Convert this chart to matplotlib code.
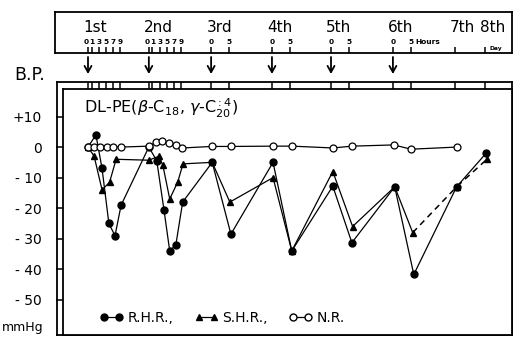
import numpy as np
import matplotlib
matplotlib.use("Agg")
from matplotlib import pyplot as plt
from matplotlib import transforms
from matplotlib.lines import Line2D

# day start positions on the (compressed) time axis, in hour units
DAY_POS = [0, 16.9, 34.2, 51.1, 67.5, 84.7, 101.9, 110.3]
DAY_LABELS = ["1st", "2nd", "3rd", "4th", "5th", "6th", "7th", "8th"]
DAY_HOURS = [[0, 1, 3, 5, 7, 9], [0, 1, 3, 5, 7, 9], [0, 5], [0, 5], [0, 5], [0, 5], [0], [0]]

# R.H.R. (filled circles)
rhr_day = [1, 1, 1, 1, 1, 1, 2, 2, 2, 2, 2, 2, 3, 3, 4, 4, 5, 5, 6, 6, 7, 8]
rhr_hour = [0, 2.2, 3.9, 5.8, 7.5, 9.2, 0, 2.2, 4.2, 5.8, 7.5, 9.4, 0.3, 5.5, 0.3, 5.5, 0.5, 5.8, 0.5, 5.8, 0.5, 0.3]
rhr_val = [0, 4, -7, -25, -29, -19, 0, -4.5, -20.5, -34, -32, -18, -5, -28.5, -5, -34, -12.8, -31.3, -13, -41.7, -13, -2]

# S.H.R. (filled triangles), last two segments dashed
shr_day = [1, 1, 1, 1, 1, 2, 2, 2, 2, 2, 2, 3, 3, 4, 4, 5, 5, 6, 6, 7, 8]
shr_hour = [0, 1.7, 3.9, 6, 7.8, 0, 2.8, 3.9, 5.8, 8, 9.5, 0.3, 5.2, 0.3, 5.5, 0.5, 6, 0.5, 5.5, 0.5, 0.5]
shr_val = [0, -3, -14, -11.5, -4, -4.3, -3, -6, -17, -11.5, -5.5, -5, -18, -10, -34, -8, -26, -13, -28, -13, -4]

# N.R. (open circles)
nr_day = [1, 1, 1, 1, 1, 1, 2, 2, 2, 2, 2, 2, 3, 3, 4, 4, 5, 5, 6, 6, 7]
nr_hour = [0, 1.7, 3.3, 5.3, 7, 9.2, 0, 1.9, 3.6, 5.6, 7.5, 9.2, 0.3, 5.6, 0.3, 5.6, 0.6, 5.8, 0.3, 5, 0.6]
nr_val = [0, 0, 0, 0, 0, 0, 0.3, 1.5, 2, 1.3, 0.7, -0.3, 0.2, 0.2, 0.3, 0.3, -0.3, 0.3, 0.7, -0.7, 0]

Y_TICKS = [10, 0, -10, -20, -30, -40, -50]
Y_TICK_LABELS = ["+10", "0", "- 10", "- 20", "- 30", "- 40", "- 50"]


def to_x(days, hours):
    return np.array([DAY_POS[d - 1] + h for d, h in zip(days, hours)])


W, H = 514, 337
fig = plt.figure(figsize=(W / 100, H / 100), dpi=100)


def px_box(x0, y0, x1, y1):
    # pixel box (top-left origin) -> figure fraction rect
    return [x0 / W, 1 - y1 / H, (x1 - x0) / W, (y1 - y0) / H]


PX_H = 3.6   # pixels per hour
X0_PX = 88   # pixel of day 1, hour 0


def px_to_x(px):
    return (px - X0_PX) / PX_H


# outer frame (double-line look)
ax_out = fig.add_axes(px_box(57, 82, 512, 335))
ax_out.set_xticks([])
ax_out.set_yticks([])
for s in ax_out.spines.values():
    s.set_linewidth(1.3)

ax = fig.add_axes(px_box(63, 89, 512, 335))
ax.set_xlim(px_to_x(63), px_to_x(512))
ax.set_ylim(-61.5, 19)
for s in ax.spines.values():
    s.set_linewidth(1.3)

hour_ticks = [DAY_POS[i] + h for i, hs in enumerate(DAY_HOURS) for h in hs]
ax.xaxis.tick_top()
ax.set_xticks(hour_ticks)
ax.set_xticklabels([])
ax.tick_params(axis="x", direction="out", length=5, width=1.1)
ax.set_yticks(Y_TICKS)
ax.set_yticklabels(Y_TICK_LABELS)
ax.tick_params(axis="y", direction="out", length=5, width=1.1, pad=10, labelsize=10)

# data
x_rhr = to_x(rhr_day, rhr_hour)
x_shr = to_x(shr_day, shr_hour)
x_nr = to_x(nr_day, nr_hour)

ax.plot(x_shr[:-2], shr_val[:-2], color="black", lw=0.9, marker="^", ms=4.4, zorder=3)
ax.plot(x_shr[-3:], shr_val[-3:], color="black", lw=1.1, ls=(0, (4, 3)), zorder=3)
ax.plot(x_shr[-2:], shr_val[-2:], color="black", lw=0, marker="^", ms=4.4, zorder=3)
ax.plot(x_rhr, rhr_val, color="black", lw=0.9, marker="o", ms=5, zorder=4)
ax.plot(x_nr, nr_val, color="black", lw=0.9, marker="o", ms=5, mfc="white", mew=0.9, zorder=5)

ax.text(px_to_x(84), 12.5, r"DL-PE($\beta$-C$_{18}$, $\gamma$-C$_{20}^{:4}$)", fontsize=11.5,
        ha="left", va="center")

# legend
handles = [
    Line2D([], [], color="black", lw=0.9, marker="o", ms=5),
    Line2D([], [], color="black", lw=0.9, marker="^", ms=4.4),
    Line2D([], [], color="black", lw=0.9, marker="o", ms=5, mfc="white"),
]
ax.legend(handles, ["R.H.R.,", "S.H.R.,", "N.R."], numpoints=2, ncol=3, frameon=False,
          loc="lower left", bbox_to_anchor=(0.07, 0.02), fontsize=10, handlelength=1.7,
          handletextpad=0.3, columnspacing=1.5, borderaxespad=0)

# top day box
ax_top = fig.add_axes(px_box(55, 12, 512, 53))
ax_top.set_xlim(px_to_x(55), px_to_x(512))
ax_top.set_ylim(0, 1)
ax_top.set_yticks([])
ax_top.set_xticks(hour_ticks)
ax_top.set_xticklabels([])
ax_top.tick_params(axis="x", direction="in", length=4, width=1.1)
for s in ax_top.spines.values():
    s.set_linewidth(1.3)

for i, lab in enumerate(DAY_LABELS):
    ax_top.text(DAY_POS[i] - 1.3, 0.62, lab, fontsize=11, ha="left", va="center")
    if i >= 6:
        continue
    for h in DAY_HOURS[i]:
        # first-two-day labels are spread a touch so "0" and "1" do not collide
        hx = DAY_POS[i] + (h * 1.0 - 0.4 if h == 0 and i < 2 else h)
        ax_top.text(hx, 0.27, str(h), fontsize=5.3, ha="center", va="center",
                    fontweight="bold")
ax_top.text(DAY_POS[5] + 6.3, 0.27, "Hours", fontsize=5.3, ha="left", va="center",
            fontweight="bold")
ax_top.text(DAY_POS[7] + 1.2, 0.1, "Day", fontsize=4.3, ha="left", va="center",
            fontweight="bold")

# injection arrows
trans = transforms.blended_transform_factory(ax.transData, fig.transFigure)
for d in range(6):
    ax.annotate("", xy=(DAY_POS[d], 1 - 74 / H), xytext=(DAY_POS[d], 1 - 57 / H),
                xycoords=trans, textcoords=trans, annotation_clip=False,
                arrowprops=dict(arrowstyle="->,head_length=0.45,head_width=0.25", lw=1.3,
                                color="black", shrinkA=0, shrinkB=0))

fig.text(14 / W, 1 - 75 / H, "B.P.", fontsize=12.5, ha="left", va="center")
fig.text(2 / W, 1 - 327 / H, "mmHg", fontsize=9, ha="left", va="center")

fig.savefig("out.png", dpi=100)
